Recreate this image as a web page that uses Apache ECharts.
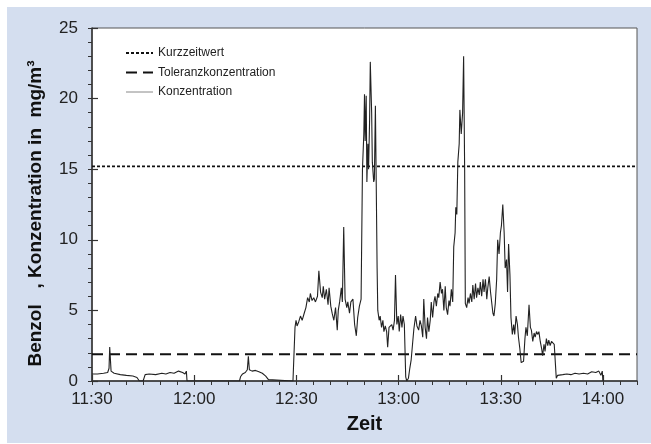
<!DOCTYPE html>
<html>
<head>
<meta charset="utf-8">
<script src="https://cdn.jsdelivr.net/npm/echarts@6/dist/echarts.min.js"></script>
<style>
  html, body { margin: 0; padding: 0; background: #ffffff; }
  #panel { position: absolute; left: 7px; top: 7px; width: 644px; height: 436px; background: #d4deef; }
  #chart { position: absolute; left: 0; top: 0; width: 651px; height: 444px; }
</style>
</head>
<body>
<div id="panel"></div>
<div id="chart"></div>
<script>
// Benzene concentration readings, time in minutes after 11:30
const minutes = [
  0, 1.6, 3.4, 4.6, 5.0, 5.2, 5.6, 6.5, 8.3, 10.1, 12.0, 13.2, 13.9,
  15.0, 15.6, 16.8, 18.7, 20.5, 21.7, 22.9, 24.1, 25.4, 26.6, 27.3, 27.7, 27.9,
  43.3, 43.6, 44.2, 45.0, 45.6, 45.9, 46.2, 47.0, 48.0, 49.0, 50.0, 51.0, 51.8, 52.3,
  59.0, 59.6, 59.9, 60.2, 60.7, 61.2, 61.7, 62.3, 62.8, 63.3, 63.8, 64.1, 64.6,
  65.1, 65.6, 66.2, 66.6, 67.1, 67.6, 67.9, 68.3, 68.8, 69.3, 69.6, 70.1, 70.5,
  71.0, 71.5, 72.0, 72.3, 72.7, 73.2, 73.5, 73.9, 74.3, 74.8, 75.1, 75.6, 76.0,
  76.6, 77.1, 77.6, 78.0, 78.5, 79.0, 79.4, 79.8, 80.0, 80.2, 80.5, 80.7, 81.0,
  81.2, 81.5, 81.7, 82.1, 82.3, 82.7, 82.9, 83.2, 83.4, 83.7, 83.9, 84.3, 84.6,
  85.0, 85.4, 85.7, 86.1, 86.5, 86.8, 87.2, 87.6, 88.0, 88.4, 88.8, 89.1, 89.5,
  89.9, 90.2, 90.6, 91.0, 91.3, 91.7, 92.1, 92.4, 92.9, 93.3, 93.7, 94.1, 94.5,
  95.0, 95.4, 95.9, 96.3, 96.7, 97.1, 97.4, 97.8, 98.2, 98.5, 98.9, 99.3, 99.6,
  100.0, 100.4, 100.7, 101.1, 101.5, 101.8, 102.2, 102.6, 102.9, 103.3, 103.7,
  104.0, 104.4, 104.8, 105.1, 105.5, 105.9, 106.2, 106.6, 106.8, 107.1, 107.4,
  107.8, 108.0, 108.4, 108.8, 109.1, 109.4, 109.6, 110.0, 110.4, 110.7, 111.1,
  111.5, 111.8, 112.2, 112.6, 112.9, 113.3, 113.7, 114.0, 114.4, 114.8, 115.1,
  115.5, 115.9, 116.2, 116.6, 117.0, 117.3, 117.7, 118.0, 118.4, 118.8, 119.1,
  119.5, 119.9, 120.2, 120.6, 121.0, 121.3, 121.7, 122.0, 122.3, 122.7, 123.0,
  123.4, 123.8, 124.1, 124.5, 124.9, 125.2, 125.6, 126.0, 126.3, 126.7, 127.1,
  127.4, 127.8, 128.3, 128.7, 129.0, 129.4, 129.8, 130.1, 130.5, 130.9, 131.2,
  131.6, 132.0, 132.3, 132.7, 133.0, 133.4, 133.8, 134.1, 134.5, 134.9, 135.2,
  135.7, 136.1, 136.3, 136.7, 137.1, 138.2, 139.4, 140.6, 141.8, 143.0, 144.3,
  145.5, 146.7, 147.9, 148.8, 149.4, 149.8, 150.0
];
const konzentration = [
  0.5, 0.5, 0.55, 0.6, 0.9, 2.4, 0.7, 0.55, 0.45, 0.4, 0.35, 0.25, 0,
  0, 0.45, 0.5, 0.45, 0.55, 0.5, 0.6, 0.55, 0.7, 0.6, 0.5, 0.7, 0,
  0, 0.3, 0.5, 0.6, 0.8, 1.75, 0.8, 0.7, 0.75, 0.65, 0.55, 0.35, 0.1, 0,
  0, 3.8, 4.3, 3.9, 4.2, 4.6, 4.3, 4.8, 5.2, 5.9, 5.6, 6.2, 5.7,
  5.9, 5.6, 6.0, 7.8, 6.3, 5.9, 6.7, 5.8, 6.5, 5.4, 6.6, 5.3, 4.8,
  4.3, 5.2, 3.6, 5.0, 5.6, 6.6, 5.6, 10.9, 5.8, 5.2, 5.6, 4.8, 5.6,
  5.8, 4.0, 3.2, 4.5, 5.3, 5.8, 15.0, 17.5, 20.3, 17.0, 20.2, 14.1, 16.8,
  15.0, 18.5, 22.6, 19.0, 15.5, 14.1, 14.3, 19.5, 15.0, 8.0, 5.0, 4.3, 4.6,
  3.8, 4.3, 3.5, 3.9, 3.5, 2.4, 3.8, 3.7, 4.0, 3.6, 4.3, 7.5, 4.0,
  4.6, 3.5, 4.7, 3.8, 4.6, 4.0, 0.3, 0, 0.2, 0.9, 1.5, 2.6, 3.7,
  4.6, 3.9, 3.6, 4.3, 3.9, 3.1, 5.8, 3.8, 3.0, 4.5, 3.5, 4.3, 5.6,
  4.5, 5.6, 6.0, 5.3, 6.2, 5.9, 7.0, 6.2, 6.5, 5.0, 6.7,
  5.2, 4.7, 5.7, 5.3, 6.5, 5.6, 9.5, 10.5, 12.3, 11.8, 15.5,
  16.8, 19.2, 17.5, 19.0, 23.0, 15.0, 5.5, 5.2, 5.9, 5.5, 6.2,
  5.6, 6.8, 5.8, 6.9, 5.9, 6.6, 6.1, 7.0, 6.0, 7.2, 6.3,
  7.2, 5.8, 6.6, 7.4, 6.3, 6.2, 4.8, 4.6, 5.5, 7.2, 10.0,
  9.0, 10.5, 11.0, 12.5, 10.5, 8.0, 8.6, 6.3, 9.7, 7.5, 4.5,
  3.3, 4.0, 3.3, 4.6, 4.0, 3.1, 2.3, 1.3, 1.2, 1.4, 3.0,
  3.8, 3.2, 5.4, 3.8, 3.6, 2.8, 3.4, 3.1, 3.5, 3.3, 3.5,
  2.8, 2.3, 1.8, 2.6, 2.1, 3.0, 2.5, 2.9, 2.5, 2.8, 2.7,
  2.6, 1.0, 0.2, 0.4, 0.5, 0.45, 0.5, 0.45, 0.55, 0.5, 0.55,
  0.5, 0.65, 0.6, 0.7, 0.4, 0.7, 0
];

// Limit values in mg/m³
const kurzzeitwert = 15.2;
const toleranzkonzentration = 1.9;

// Axis ranges and tick labels
const xMin = 0, xMax = 160;
const timeLabels = ['11:30', '12:00', '12:30', '13:00', '13:30', '14:00'];
const yMin = 0, yMax = 25;

const seriesNames = ['Kurzzeitwert', 'Toleranzkonzentration', 'Konzentration'];

const font = 'Liberation Sans, Arial, sans-serif';
const axisColor = '#333333';

const chart = echarts.init(document.getElementById('chart'), null, { renderer: 'canvas' });

const option = {
  backgroundColor: 'transparent',
  animation: false,
  textStyle: { fontFamily: font },
  grid: {
    left: 92, right: 14, top: 28, bottom: 63,
    show: true, backgroundColor: '#ffffff',
    borderColor: '#555555', borderWidth: 1
  },
  legend: {
    orient: 'vertical',
    left: 120, top: 42,
    itemWidth: 27, itemHeight: 14, itemGap: 7.5,
    itemStyle: { opacity: 0 },
    data: [
      { name: seriesNames[0] },
      { name: seriesNames[1] },
      { name: seriesNames[2], lineStyle: { color: '#888888', width: 1 } }
    ],
    textStyle: { fontFamily: font, fontSize: 12, color: '#222222' }
  },
  xAxis: [
    {
      type: 'value', min: xMin, max: xMax, interval: 30,
      axisLine: { show: true, onZero: false, lineStyle: { color: axisColor, width: 1.5 } },
      axisTick: { show: true, inside: true, length: 6, lineStyle: { color: axisColor, width: 1.2 } },
      axisLabel: {
        fontSize: 17, color: '#222222', margin: 10, fontFamily: font,
        formatter: v => timeLabels[Math.round(v / 30)] || ''
      },
      splitLine: { show: false },
      name: 'Zeit', nameLocation: 'middle', nameGap: 33,
      nameTextStyle: { fontSize: 20, fontWeight: 'bold', color: '#111111', fontFamily: font }
    },
    {
      type: 'value', min: xMin, max: xMax, interval: 5, position: 'bottom',
      axisLine: { show: false },
      axisTick: { show: true, inside: false, length: 4, lineStyle: { color: axisColor, width: 1 } },
      axisLabel: { show: false },
      splitLine: { show: false }
    }
  ],
  yAxis: [
    {
      type: 'value', min: yMin, max: yMax, interval: 5,
      axisLine: { show: true, lineStyle: { color: axisColor, width: 1.5 } },
      axisTick: { show: true, inside: true, length: 6, lineStyle: { color: axisColor, width: 1.2 } },
      axisLabel: { fontSize: 17, color: '#222222', margin: 14, fontFamily: font },
      splitLine: { show: false },
      name: 'Benzol   , Konzentration in  mg/m³', nameLocation: 'middle', nameGap: 47,
      nameTextStyle: { fontSize: 19, fontWeight: 'bold', color: '#111111', fontFamily: font, padding: [0, 18, 0, 0] }
    },
    {
      type: 'value', min: yMin, max: yMax, interval: 1, position: 'left',
      axisLine: { show: false },
      axisTick: { show: true, inside: false, length: 4, lineStyle: { color: axisColor, width: 1 } },
      axisLabel: { show: false },
      splitLine: { show: false }
    }
  ],
  series: [
    {
      name: seriesNames[0], type: 'line', symbol: 'none', silent: true,
      data: [[xMin, kurzzeitwert], [xMax, kurzzeitwert]],
      lineStyle: { color: '#111111', width: 1.6, type: [3, 2] },
      itemStyle: { color: '#111111' }
    },
    {
      name: seriesNames[1], type: 'line', symbol: 'none', silent: true,
      data: [[xMin, toleranzkonzentration], [xMax, toleranzkonzentration]],
      lineStyle: { color: '#111111', width: 2, type: [11, 6] },
      itemStyle: { color: '#111111' }
    },
    {
      name: seriesNames[2], type: 'line', symbol: 'none',
      data: minutes.map((m, i) => [m, konzentration[i]]),
      lineStyle: { color: '#222222', width: 1.1 },
      itemStyle: { color: '#777777' }
    }
  ]
};

chart.setOption(option);
</script>
</body>
</html>
